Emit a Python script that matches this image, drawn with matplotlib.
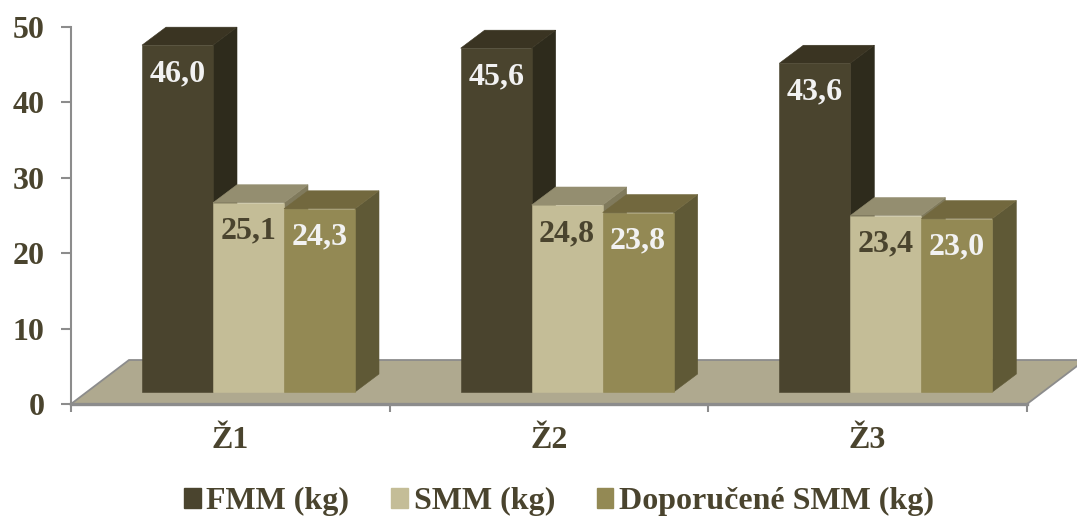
import matplotlib
matplotlib.use("Agg")
import matplotlib.pyplot as plt
from matplotlib.patches import Polygon, Patch

# Data
categories = ["Ž1", "Ž2", "Ž3"]
series_names = ["FMM (kg)", "SMM (kg)", "Doporučené SMM (kg)"]
fmm = [46.0, 45.6, 43.6]
smm = [25.1, 24.8, 23.4]
doporucene_smm = [24.3, 23.8, 23.0]
y_ticks = [0, 10, 20, 30, 40, 50]

series_values = [fmm, smm, doporucene_smm]

# Colours: (front, top, side) for each series
front_colors = ["#4a442e", "#c4bd97", "#938954"]
top_colors = ["#3a3422", "#948e70", "#72683e"]
side_colors = ["#2e2b1c", "#807a5c", "#5f5936"]
label_colors = ["#f2f2f2", "#4a442e", "#f2f2f2"]
text_color = "#4a442e"
axis_gray = "#8c8c8c"
floor_color = "#afa98f"

plt.rcParams["font.family"] = ["Liberation Serif", "DejaVu Serif"]
plt.rcParams["font.weight"] = "bold"

W, H, DPI = 1077, 520, 100
fig = plt.figure(figsize=(W / DPI, H / DPI), dpi=DPI)
ax_left, ax_right = 71 / W, 1027 / W
ax_bottom, ax_top = (H - 404) / H, (H - 27) / H
ax = fig.add_axes([ax_left, ax_bottom, ax_right - ax_left, ax_top - ax_bottom])
ax.set_xlim(0, len(categories))
ax.set_ylim(0, 50)

# pixel -> data conversions for the oblique depth
px_x = len(categories) / (1027 - 71)
px_y = 50 / (404 - 27)

# Floor
fdx, fdy = 58 * px_x, 44 * px_y
floor = Polygon([(0, 0), (3, 0), (3 + fdx, fdy), (fdx, fdy)], closed=True,
                facecolor=floor_color, edgecolor=axis_gray, lw=1.3,
                clip_on=False, zorder=1)
ax.add_patch(floor)

# Bars
bar_w = 71 * px_x
gap_left = 71 * px_x
base = 12 * px_y
bdx, bdy = 24 * px_x, 18 * px_y

for i in range(len(categories)):
    for s, vals in enumerate(series_values):
        v = vals[i]
        x0 = i + gap_left + s * bar_w
        x1 = x0 + bar_w
        y0 = base
        y1 = base + v
        side = Polygon([(x1, y0), (x1 + bdx, y0 + bdy), (x1 + bdx, y1 + bdy), (x1, y1)],
                       closed=True, facecolor=side_colors[s], edgecolor=side_colors[s],
                       lw=0.4, clip_on=False, zorder=2)
        top = Polygon([(x0, y1), (x1, y1), (x1 + bdx, y1 + bdy), (x0 + bdx, y1 + bdy)],
                      closed=True, facecolor=top_colors[s], edgecolor=top_colors[s],
                      lw=0.4, clip_on=False, zorder=2)
        front = Polygon([(x0, y0), (x1, y0), (x1, y1), (x0, y1)],
                        closed=True, facecolor=front_colors[s], edgecolor=front_colors[s],
                        lw=0.4, clip_on=False, zorder=2)
        for p in (side, top, front):
            ax.add_patch(p)
        ax.text((x0 + x1) / 2, y1 - 36 * px_y, f"{v:.1f}".replace(".", ","),
                ha="center", va="baseline", fontsize=23, fontweight="bold",
                color=label_colors[s], zorder=3)

# Axes styling
for name in ("top", "right"):
    ax.spines[name].set_visible(False)
ax.spines["left"].set_color(axis_gray)
ax.spines["left"].set_linewidth(1.5)
ax.spines["bottom"].set_color(axis_gray)
ax.spines["bottom"].set_linewidth(2.4)
ax.spines["bottom"].set_zorder(1.5)

ax.set_yticks(y_ticks)
ax.set_yticklabels([str(t) for t in y_ticks])
ax.tick_params(axis="y", direction="out", length=7, width=1.5, color=axis_gray,
               labelsize=23, labelcolor=text_color, pad=12)

ax.set_xticks(range(len(categories) + 1))
ax.set_xticklabels([])
ax.set_xticks([i + 0.5 for i in range(len(categories))], minor=True)
ax.set_xticklabels(categories, minor=True)
ax.tick_params(axis="x", which="major", direction="out", length=6, width=1.5, color=axis_gray)
ax.tick_params(axis="x", which="minor", length=0, labelsize=23,
               labelcolor=text_color, pad=16)
ax.patch.set_alpha(0)

# Legend
handles = [Patch(facecolor=c, edgecolor=c) for c in front_colors]
leg = fig.legend(handles, series_names, loc="center", bbox_to_anchor=(0.519, 0.035),
                 ncol=3, frameon=False, fontsize=23, handlelength=0.53,
                 handleheight=0.62, handletextpad=0.18, columnspacing=1.3,
                 borderaxespad=0, borderpad=0)
for t in leg.get_texts():
    t.set_color(text_color)
    t.set_fontweight("bold")

fig.savefig("out.png", dpi=DPI, facecolor="white")
